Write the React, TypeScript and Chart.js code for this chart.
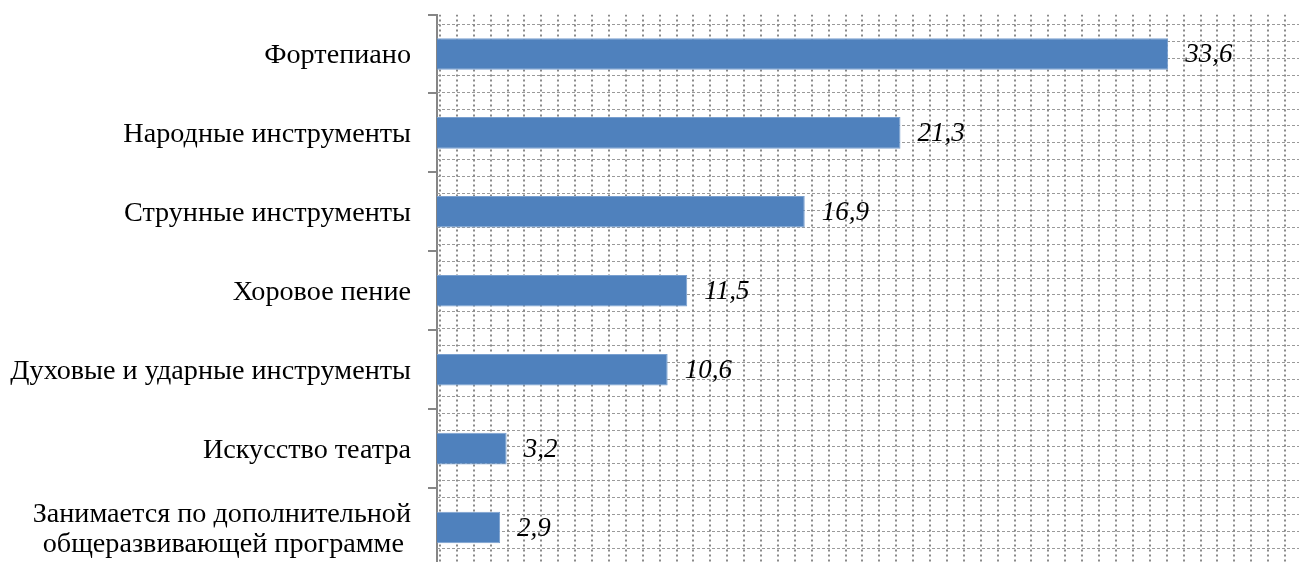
import React, { useEffect, useRef } from 'react';
import { Chart, registerables } from 'chart.js';

Chart.register(...registerables);

const categories: (string | string[])[] = [
  'Фортепиано',
  'Народные инструменты',
  'Струнные инструменты',
  'Хоровое пение',
  'Духовые и ударные инструменты',
  'Искусство театра',
  ['Занимается по дополнительной', 'общеразвивающей программе '],
];
const values = [33.6, 21.3, 16.9, 11.5, 10.6, 3.2, 2.9];
const valueLabels = ['33,6', '21,3', '16,9', '11,5', '10,6', '3,2', '2,9'];
const xMin = 0;
const xMax = 40;

const patternGrid = {
  id: 'patternGrid',
  beforeDatasetsDraw(chart: any) {
    const { ctx, chartArea: a } = chart;
    ctx.save();
    ctx.beginPath();
    ctx.rect(a.left, a.top, a.right - a.left, a.bottom - a.top);
    ctx.clip();
    const step = 16.9;
    ctx.lineWidth = 1;
    ctx.strokeStyle = '#9a9a9a';
    ctx.setLineDash([3, 2]);
    for (let y = a.top + 9.5; y < a.bottom; y += step) {
      const py = Math.round(y) + 0.5;
      ctx.beginPath();
      ctx.moveTo(a.left, py);
      ctx.lineTo(a.right, py);
      ctx.stroke();
    }
    ctx.lineWidth = 2;
    ctx.strokeStyle = '#8a8a8a';
    ctx.setLineDash([2, 3]);
    for (let x = a.left + 3; x < a.right; x += step) {
      const px = Math.round(x);
      ctx.beginPath();
      ctx.moveTo(px, a.top);
      ctx.lineTo(px, a.bottom);
      ctx.stroke();
    }
    ctx.restore();
  },
};

const valueLabelPlugin = {
  id: 'valueLabels',
  afterDatasetsDraw(chart: any) {
    const { ctx } = chart;
    const meta = chart.getDatasetMeta(0);
    ctx.save();
    ctx.font = 'italic 27px "Liberation Serif", "Times New Roman", serif';
    ctx.fillStyle = '#000000';
    ctx.textAlign = 'left';
    ctx.textBaseline = 'middle';
    meta.data.forEach((bar: any, i: number) => {
      ctx.fillText(valueLabels[i], bar.x + 17, bar.y + 1);
    });
    ctx.restore();
  },
};

export default function App() {
  const ref = useRef<HTMLCanvasElement | null>(null);

  useEffect(() => {
    if (!ref.current) return;
    const chart = new Chart(ref.current, {
      type: 'bar',
      data: {
        labels: categories,
        datasets: [
          {
            data: values,
            backgroundColor: '#4f81bd',
            borderColor: '#7aa0cf',
            borderWidth: 1,
            barPercentage: 0.4,
            categoryPercentage: 1,
          },
        ],
      },
      options: {
        indexAxis: 'y',
        responsive: false,
        animation: false,
        layout: { padding: { top: 14.5, right: 12.6, bottom: 13, left: 0 } },
        plugins: {
          legend: { display: false },
          tooltip: { enabled: false },
        },
        scales: {
          x: {
            display: false,
            min: xMin,
            max: xMax,
          },
          y: {
            afterFit(scale: any) {
              scale.width = 437;
              scale.paddingTop = 0;
              scale.paddingBottom = 0;
            },
            border: { display: true, color: '#868686', width: 2 },
            grid: {
              display: true,
              drawOnChartArea: false,
              drawTicks: true,
              tickLength: 9,
              color: '#868686',
              lineWidth: 2,
              offset: true,
            },
            ticks: {
              color: '#000000',
              padding: 17,
              labelOffset: 2,
              font: { family: '"Liberation Serif", "Times New Roman", serif', size: 28.2, lineHeight: 1.07 },
            },
          },
        },
      },
      plugins: [patternGrid, valueLabelPlugin],
    });
    return () => chart.destroy();
  }, []);

  return (
    <div style={{ position: 'fixed', left: 0, top: 0, width: 1299, height: 562, overflow: 'hidden', background: '#ffffff' }}>
      <canvas ref={ref} width={1320} height={580} style={{ display: 'block' }} />
    </div>
  );
}
